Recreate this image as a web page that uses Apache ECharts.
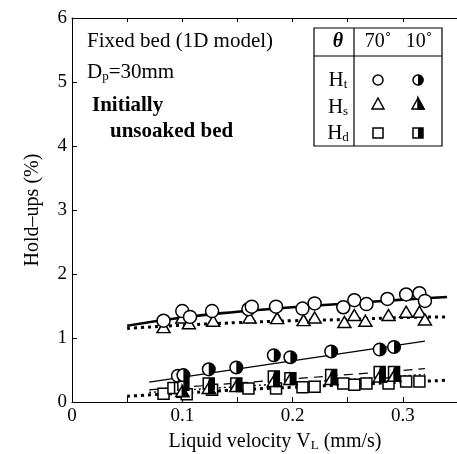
<!DOCTYPE html>
<html>
<head>
<meta charset="utf-8">
<script src="https://cdn.jsdelivr.net/npm/echarts@6/dist/echarts.min.js"></script>
<style>
  html, body { margin: 0; padding: 0; background: #fff; }
  #chart { width: 457px; height: 454px; }
</style>
</head>
<body>
<div id="chart"></div>
<script>
// Hold-up measurements, fixed bed (1D model), Dp = 30 mm, initially unsoaked bed
// Liquid velocity VL (mm/s) vs hold-up (%)

// total hold-up Ht, theta = 70 deg
const htOpen = [
  [0.083, 1.27], [0.100, 1.42], [0.107, 1.33], [0.127, 1.42], [0.160, 1.45],
  [0.163, 1.49], [0.185, 1.49], [0.209, 1.46], [0.220, 1.54], [0.246, 1.48],
  [0.256, 1.59], [0.267, 1.53], [0.286, 1.61], [0.303, 1.68], [0.315, 1.70],
  [0.320, 1.58]
];
// static hold-up Hs, theta = 70 deg
const hsOpen = [
  [0.083, 1.17], [0.100, 1.32], [0.106, 1.23], [0.128, 1.27], [0.161, 1.32],
  [0.186, 1.31], [0.210, 1.28], [0.220, 1.32], [0.247, 1.25], [0.256, 1.36],
  [0.266, 1.27], [0.287, 1.36], [0.303, 1.41], [0.315, 1.41], [0.320, 1.29]
];
// dynamic hold-up Hd, theta = 70 deg
const hdOpen = [
  [0.083, 0.13], [0.092, 0.22], [0.100, 0.16], [0.104, 0.12], [0.127, 0.19],
  [0.160, 0.21], [0.185, 0.21], [0.209, 0.23], [0.220, 0.24], [0.246, 0.29],
  [0.256, 0.27], [0.267, 0.29], [0.287, 0.29], [0.303, 0.32], [0.315, 0.32]
];
// theta = 10 deg
const htHalf = [
  [0.096, 0.41], [0.101, 0.42], [0.124, 0.51], [0.149, 0.54], [0.183, 0.73],
  [0.198, 0.70], [0.235, 0.79], [0.279, 0.82], [0.292, 0.86]
];
const hsHalf = [
  [0.100, 0.17], [0.124, 0.22], [0.149, 0.25], [0.183, 0.33], [0.198, 0.36],
  [0.235, 0.36], [0.279, 0.40], [0.292, 0.41]
];
const hdHalf = [
  [0.098, 0.22], [0.101, 0.27], [0.124, 0.29], [0.149, 0.29], [0.183, 0.40],
  [0.198, 0.37], [0.235, 0.42], [0.279, 0.47], [0.292, 0.47]
];

// model curves (1D model)
const htFit70 = [[0.05, 1.19], [0.10, 1.32], [0.15, 1.41], [0.20, 1.48], [0.25, 1.54], [0.30, 1.60], [0.34, 1.64]];
const hsFit70 = [[0.05, 1.15], [0.10, 1.20], [0.15, 1.24], [0.20, 1.27], [0.25, 1.29], [0.30, 1.32], [0.34, 1.33]];
const hdFit70 = [[0.05, 0.09], [0.10, 0.14], [0.15, 0.19], [0.20, 0.23], [0.25, 0.27], [0.30, 0.31], [0.34, 0.34]];
const htFit10 = [[0.07, 0.31], [0.32, 0.95]];
const hsFit10 = [[0.07, 0.19], [0.32, 0.52]];
const hdFit10 = [[0.07, 0.15], [0.32, 0.43]];

const xTicks = [0, 0.1, 0.2, 0.3];
const yTicks = [0, 1, 2, 3, 4, 5, 6];

const FONT = '"Liberation Serif", "Times New Roman", serif';
const chart = echarts.init(document.getElementById('chart'));

// half-filled marker drawn at a data point: left half white, right half black
function halfMarker(kind) {
  return function (params, api) {
    const p = api.coord([api.value(0), api.value(1)]);
    const x = p[0], y = p[1];
    const lw = 1.5;
    if (kind === 'circle') {
      const r = 6.3;
      return { type: 'group', children: [
        { type: 'circle', shape: { cx: x, cy: y, r: r }, style: { fill: '#fff', stroke: '#000', lineWidth: lw } },
        { type: 'sector', shape: { cx: x, cy: y, r0: 0, r: r, startAngle: -Math.PI / 2, endAngle: Math.PI / 2 }, style: { fill: '#000' } }
      ] };
    }
    if (kind === 'triangle') {
      const w = 6.5, h = 5.5;
      return { type: 'group', children: [
        { type: 'polygon', shape: { points: [[x, y - h], [x + w, y + h], [x - w, y + h]] }, style: { fill: '#fff', stroke: '#000', lineWidth: lw } },
        { type: 'polygon', shape: { points: [[x, y - h], [x + w, y + h], [x, y + h]] }, style: { fill: '#000', stroke: '#000', lineWidth: lw } }
      ] };
    }
    const s = 5.5;
    return { type: 'group', children: [
      { type: 'rect', shape: { x: x - s, y: y - s, width: 2 * s, height: 2 * s }, style: { fill: '#fff', stroke: '#000', lineWidth: lw } },
      { type: 'rect', shape: { x: x, y: y - s, width: s, height: 2 * s }, style: { fill: '#000' } }
    ] };
  };
}

function openScatter(data, symbol, size) {
  return {
    type: 'scatter', data: data, symbol: symbol, symbolSize: size, z: 5,
    itemStyle: { color: '#fff', borderColor: '#000', borderWidth: 1.5, opacity: 1 },
    emphasis: { disabled: true }
  };
}

function fitLine(data, type, width) {
  return {
    type: 'line', data: data, showSymbol: false, smooth: true, z: 3,
    lineStyle: { color: '#000', type: type, width: width },
    emphasis: { disabled: true }
  };
}

const tickLabel = (v) => {
  const k = Math.round(v * 100);
  if (k % 10 !== 0) return '';
  return k === 0 ? '0' : (k / 100).toFixed(1);
};

const baseText = { fontFamily: FONT, fontSize: 21, fill: '#000' };
const subRich = { sub: { fontFamily: FONT, fontSize: 13, padding: [9, 0, 0, 0] } };

chart.setOption({
  animation: false,
  backgroundColor: '#fff',
  grid: { left: 72, top: 18, width: 386, height: 384, containLabel: false, outerBoundsMode: 'none' },
  xAxis: [{
    type: 'value', min: 0, max: 0.35, interval: 0.05,
    name: 'Liquid velocity V{sub|L} (mm/s)', nameLocation: 'middle', nameGap: 29,
    nameTextStyle: { fontFamily: FONT, fontSize: 20, color: '#000', padding: [0, 0, 0, 20],
      rich: { sub: { fontFamily: FONT, fontSize: 13, verticalAlign: 'bottom', padding: [8, 0, 0, 0] } } },
    axisLine: { lineStyle: { color: '#000', width: 1 } },
    axisTick: { inside: true, length: 5, lineStyle: { color: '#000' } },
    axisLabel: { formatter: tickLabel, fontFamily: FONT, fontSize: 19, color: '#000', margin: 5, showMaxLabel: false },
    splitLine: { show: false }
  }, {
    type: 'value', position: 'top', min: 0, max: 0.35, interval: 0.05,
    axisLine: { show: true, lineStyle: { color: '#000', width: 1 } },
    axisTick: { inside: true, length: 4, lineStyle: { color: '#000' } },
    axisLabel: { show: false },
    splitLine: { show: false }
  }],
  yAxis: {
    type: 'value', min: 0, max: 6, interval: 1,
    name: 'Hold\u2013ups (%)', nameLocation: 'middle', nameGap: 29,
    nameTextStyle: { fontFamily: FONT, fontSize: 20, color: '#000', padding: [0, 0, 0, 0] },
    axisLine: { show: true, lineStyle: { color: '#000', width: 1 } },
    axisTick: { inside: true, length: 5, lineStyle: { color: '#000' } },
    axisLabel: { fontFamily: FONT, fontSize: 19, color: '#000', margin: 5,
      formatter: (v) => (yTicks.indexOf(v) >= 0 ? String(v) : '') },
    splitLine: { show: false }
  },
  series: [
    fitLine(htFit70, 'solid', 2.6),
    fitLine(hsFit70, [3, 4], 3),
    fitLine(hdFit70, [3, 4], 3),
    fitLine(htFit10, 'solid', 1.2),
    fitLine(hsFit10, [9, 6], 1.2),
    fitLine(hdFit10, [2, 3], 1.4),
    openScatter(hdOpen, 'rect', 11),
    openScatter(hsOpen, 'triangle', [13, 11]),
    openScatter(htOpen, 'circle', 13),
    { type: 'custom', data: hdHalf, renderItem: halfMarker('square'), z: 6 },
    { type: 'custom', data: hsHalf, renderItem: halfMarker('triangle'), z: 6 },
    { type: 'custom', data: htHalf, renderItem: halfMarker('circle'), z: 6 }
  ],
  graphic: [
    // annotation text
    { type: 'text', left: 87, top: 31, style: Object.assign({ text: 'Fixed bed (1D model)' }, baseText) },
    { type: 'text', left: 87, top: 62, style: Object.assign({ text: 'D{sub|p}=30mm', rich: subRich }, baseText) },
    { type: 'text', left: 92, top: 95, style: Object.assign({}, baseText, { text: 'Initially', fontWeight: 'bold' }) },
    { type: 'text', left: 110, top: 121, style: Object.assign({}, baseText, { text: 'unsoaked bed', fontWeight: 'bold' }) },
    // symbol key table
    { type: 'rect', shape: { x: 314, y: 28, width: 128, height: 118 }, style: { fill: '#fff', stroke: '#000', lineWidth: 1.2 }, z: 10 },
    { type: 'line', shape: { x1: 314, y1: 56, x2: 442, y2: 56 }, style: { stroke: '#000', lineWidth: 1.2 }, z: 11 },
    { type: 'line', shape: { x1: 354, y1: 28, x2: 354, y2: 146 }, style: { stroke: '#000', lineWidth: 1.2 }, z: 11 },
    { type: 'text', x: 338, y: 42, z: 11, style: Object.assign({}, baseText, { text: '\u03b8', fontSize: 20, fontStyle: 'italic', fontWeight: 'bold', align: 'center', verticalAlign: 'middle' }) },
    { type: 'text', x: 378, y: 42, z: 11, style: Object.assign({}, baseText, { text: '70\u02da', fontSize: 20, align: 'center', verticalAlign: 'middle' }) },
    { type: 'text', x: 419, y: 42, z: 11, style: Object.assign({}, baseText, { text: '10\u02da', fontSize: 20, align: 'center', verticalAlign: 'middle' }) },
    { type: 'text', x: 338, y: 80, z: 11, style: Object.assign({}, baseText, { text: 'H{sub|t}', align: 'center', verticalAlign: 'middle', rich: subRich }) },
    { type: 'text', x: 338, y: 107, z: 11, style: Object.assign({}, baseText, { text: 'H{sub|s}', align: 'center', verticalAlign: 'middle', rich: subRich }) },
    { type: 'text', x: 338, y: 133, z: 11, style: Object.assign({}, baseText, { text: 'H{sub|d}', align: 'center', verticalAlign: 'middle', rich: subRich }) },
    { type: 'circle', z: 11, shape: { cx: 378, cy: 80, r: 5 }, style: { fill: '#fff', stroke: '#000', lineWidth: 1.5 } },
    { type: 'circle', z: 11, shape: { cx: 418, cy: 80, r: 5 }, style: { fill: '#fff', stroke: '#000', lineWidth: 1.5 } },
    { type: 'sector', z: 12, shape: { cx: 418, cy: 80, r0: 0, r: 5.6, startAngle: -Math.PI / 2, endAngle: Math.PI / 2 }, style: { fill: '#000' } },
    { type: 'polygon', z: 11, shape: { points: [[378, 98], [384, 109], [372, 109]] }, style: { fill: '#fff', stroke: '#000', lineWidth: 1.5 } },
    { type: 'polygon', z: 11, shape: { points: [[418, 98], [424, 109], [412, 109]] }, style: { fill: '#fff', stroke: '#000', lineWidth: 1.5 } },
    { type: 'polygon', z: 12, shape: { points: [[418, 98], [424, 109], [418, 109]] }, style: { fill: '#000', stroke: '#000', lineWidth: 1.5 } },
    { type: 'rect', z: 11, shape: { x: 373, y: 128, width: 10, height: 10 }, style: { fill: '#fff', stroke: '#000', lineWidth: 1.5 } },
    { type: 'rect', z: 11, shape: { x: 413, y: 128, width: 10, height: 10 }, style: { fill: '#fff', stroke: '#000', lineWidth: 1.5 } },
    { type: 'rect', z: 12, shape: { x: 418, y: 128, width: 5, height: 10 }, style: { fill: '#000' } }
  ]
});
</script>
</body>
</html>
